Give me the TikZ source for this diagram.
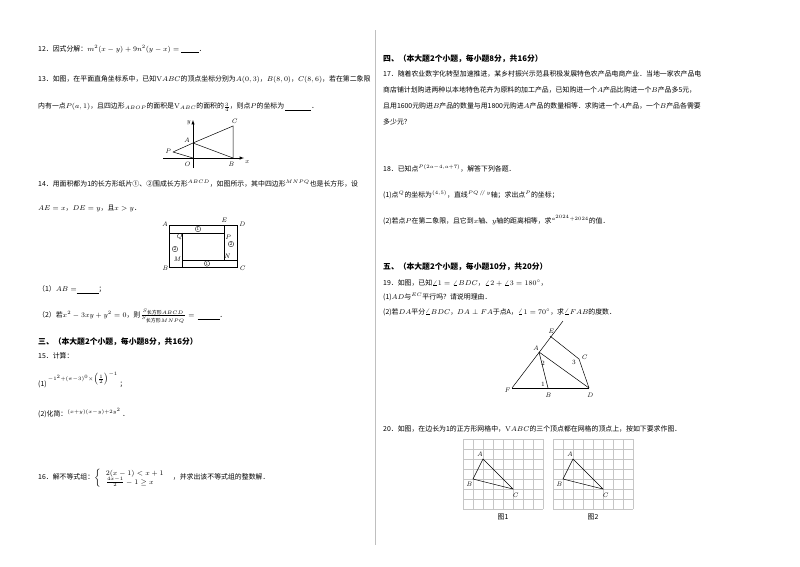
\documentclass[tikz,border=0pt]{standalone}
\usepackage{fontspec}
\newfontfamily\cjk{Noto Sans CJK SC}
\begin{document}
\begin{tikzpicture}[x=1pt,y=-1pt,
 txt/.style={anchor=west,inner sep=0,font=\cjk\fontsize{6.9}{8}\selectfont},
 hd/.style={anchor=west,inner sep=0,font=\cjk\bfseries\fontsize{7.8}{9}\selectfont},
 lb/.style={inner sep=0.5,font=\fontsize{6.5}{7}\selectfont\itshape},
 cn/.style={circle,draw,line width=0.3pt,inner sep=0.4pt,minimum size=5.5pt,font=\fontsize{4.5}{5}\selectfont},
 ln/.style={line width=0.5pt},
 gridl/.style={line width=0.3pt,gray!45}]
\useasboundingbox[fill=white] (0,0) rectangle (800,566);
\draw[gray!50,line width=0.6pt] (375,30) -- (375,545);
% left column
\node[txt] (t12) at (38,49) {12．因式分解：$m^2(x-y)+9n^2(y-x)=$\ \underline{\hspace{18pt}}．};
\node[txt] (t13a) at (38,79) {13．如图，在平面直角坐标系中，已知$\mathrm{V}ABC$的顶点坐标分别为$A(0,3)$，$B(8,0)$，$C(8,6)$，若在第二象限};
\node[txt] (t13b) at (38,107) {内有一点$P(a,1)$，且四边形$_{ABOP}$的面积是$\mathrm{V}_{ABC}$的面积的${\textstyle\frac{3}{4}}$，则点$P$的坐标为\,\underline{\hspace{26pt}}．};
% fig 13
\coordinate (O) at (193,158); \coordinate (A) at (193,143); \coordinate (B) at (233,158);
\coordinate (C) at (233,126); \coordinate (P) at (173,152);
\coordinate (yt) at (193,120); \coordinate (yb) at (193,168); \coordinate (xl) at (163,158); \coordinate (xr) at (244,158);
\draw[ln,-latex] (yb) -- (yt);
\draw[ln,-latex] (xl) -- (xr);
\draw[ln] (P) -- (A) -- (C) -- (B) -- (A); \draw[ln] (P) -- (O);
\node[lb,anchor=east] at (191,123) {y}; \node[lb] at (247,162) {x};
\node[lb] at (187,140) {A}; \node[lb] at (234,121) {C}; \node[lb] at (231,164) {B};
\node[lb] at (187,164) {O}; \node[lb] at (168,151) {P};
\node[txt] (t14a) at (38,184) {14．用面积都为1的长方形纸片①、②围成长方形$^{ABCD}$，如图所示，其中四边形$^{MNPQ}$也是长方形，设};
\node[txt] (t14b) at (38,208) {$AE=x$，$DE=y$，且$x>y$．};
% fig 14
\coordinate (RA) at (169,225); \coordinate (RD) at (237,225); \coordinate (RB) at (169,267); \coordinate (RC) at (237,267);
\coordinate (RQ) at (182,233); \coordinate (RP) at (224,233); \coordinate (RN) at (224,260); \coordinate (RM) at (182,260);
\coordinate (RE) at (224,225); \coordinate (RL) at (169,233); \coordinate (RR) at (237,260); \coordinate (RF) at (182,267);
\draw[ln] (RA) rectangle (RC);
\draw[ln] (RL) -- (RP) -- (RE); \draw[ln] (RP) -- (RN) -- (RR); \draw[ln] (RN) -- (RM) -- (RF); \draw[ln] (RM) -- (RQ);
\node[lb] at (165,224) {A}; \node[lb] at (224,220) {E}; \node[lb] at (242,224) {D};
\node[lb] at (165,268) {B}; \node[lb] at (242,268) {C};
\node[lb] at (179,237) {Q}; \node[lb] at (228,237) {P}; \node[lb] at (227,256) {N}; \node[lb] at (177,259) {M};
\node[cn] (c1a) at (198,229) {1}; \node[cn] (c1b) at (207,263.5) {1}; \node[cn] (c2a) at (175,249) {2}; \node[cn] (c2b) at (231,244) {2};
\node[txt] (t14c) at (38,290) {（1）$AB=$\underline{\hspace{22pt}}；};
\node[txt] (t14d) at (38,316) {（2）若$x^2-3xy+y^2=0$，则$\frac{S_{\mbox{\cjk\tiny 长方形}ABCD}}{S_{\mbox{\cjk\tiny 长方形}MNPQ}}=$\ \ \underline{\hspace{22pt}}．};
\node[hd] (h3) at (38,342) {三、（本大题2个小题，每小题8分，共16分）};
\node[txt] (t15) at (38,356) {15．计算：};
\node[txt] (t15a) at (38,380) {(1)\,$^{-1^2+(\pi-3)^0\times\left(\frac{1}{2}\right)^{-1}}$\,；};
\node[txt] (t15b) at (38,413) {(2)化简：$^{(x+y)(x-y)+2y^2}$\,．};
\node[txt] (t16) at (38,478) {16．解不等式组：$\left\{\begin{array}{l}2(x-1)<x+1\\ \frac{4x-1}{2}-1\ge x\end{array}\right.$\ \ ，并求出该不等式组的整数解．};
% right column
\node[hd] (h4) at (383,59) {四、（本大题2个小题，每小题8分，共16分）};
\node[txt] (t17a) at (383,74) {17．随着农业数字化转型加速推进，某乡村振兴示范县积极发展特色农产品电商产业．当地一家农产品电};
\node[txt] (t17b) at (383,90) {商店铺计划购进两种以本地特色花卉为原料的加工产品，已知购进一个$A$产品比购进一个$B$产品多5元，};
\node[txt] (t17c) at (383,106) {且用1600元购进$B$产品的数量与用1800元购进$A$产品的数量相等．求购进一个$A$产品，一个$B$产品各需要};
\node[txt] (t17d) at (383,122) {多少元？};
\node[txt] (t18) at (383,168) {18．已知点$^{P(2a-4,a+7)}$，解答下列各题．};
\node[txt] (t18a) at (383,195) {(1)点$^{Q}$的坐标为$^{(4,5)}$，直线$^{PQ\,/\!/\,y}$轴；求出点$^P$的坐标；};
\node[txt] (t18b) at (383,220) {(2)若点$P$在第二象限，且它到$x$轴、$y$轴的距离相等，求$^{a^{2024}+2024}$的值．};
\node[hd] (h5) at (383,267) {五、（本大题2个小题，每小题10分，共20分）};
\node[txt] (t19) at (383,283) {19．如图，已知$\angle1=\angle BDC$，$\angle2+\angle3=180^\circ$，};
\node[txt] (t19a) at (383,297) {(1)$AD$与$^{EC}$平行吗？请说明理由．};
\node[txt] (t19b) at (383,312) {(2)若$DA$平分$\angle BDC$，$DA\perp FA$于点A，$\angle1=70^\circ$，求$\angle FAB$的度数．};
% fig 19
\coordinate (F) at (512,388); \coordinate (GA) at (539,352); \coordinate (GE) at (550,336); \coordinate (Gt) at (563,321);
\coordinate (GB) at (548,388); \coordinate (GD) at (589,388); \coordinate (GC) at (579,359);
\draw[ln] (F) -- (Gt); \draw[ln] (F) -- (GD); \draw[ln] (GA) -- (GB); \draw[ln] (GA) -- (GD);
\draw[ln] (GE) -- (GC) -- (GD);
\node[lb] at (507,390) {F}; \node[lb] at (548,395) {B}; \node[lb] at (590,395) {D};
\node[lb] at (536,348) {A}; \node[lb] at (551,331) {E}; \node[lb] at (584,357) {C};
\node[lb,font=\fontsize{6.5}{7}\selectfont] at (543,363) {2}; \node[lb,font=\fontsize{6.5}{7}\selectfont] at (574,362) {3};
\node[lb,font=\fontsize{6.5}{7}\selectfont] at (543,384) {1};
\node[txt] (t20) at (383,429) {20．如图，在边长为1的正方形网格中，$\mathrm{V}ABC$的三个顶点都在网格的顶点上，按如下要求作图．};
% grids
\foreach \ox/\nm in {463/1,553/2}{
 \begin{scope}[shift={(\ox,439)}]
 \draw[gridl] (0,0) grid[step=10pt] (80,70);
 \draw[ln] (20,20) -- (10,40) -- (50,50) -- cycle;
 \node[lb] at (17,15) {A}; \node[lb] at (6,45) {B}; \node[lb] at (52,56) {C};
 \node[txt,anchor=center] at (40,78) {图\nm};
 \end{scope}}
\end{tikzpicture}
\end{document}
